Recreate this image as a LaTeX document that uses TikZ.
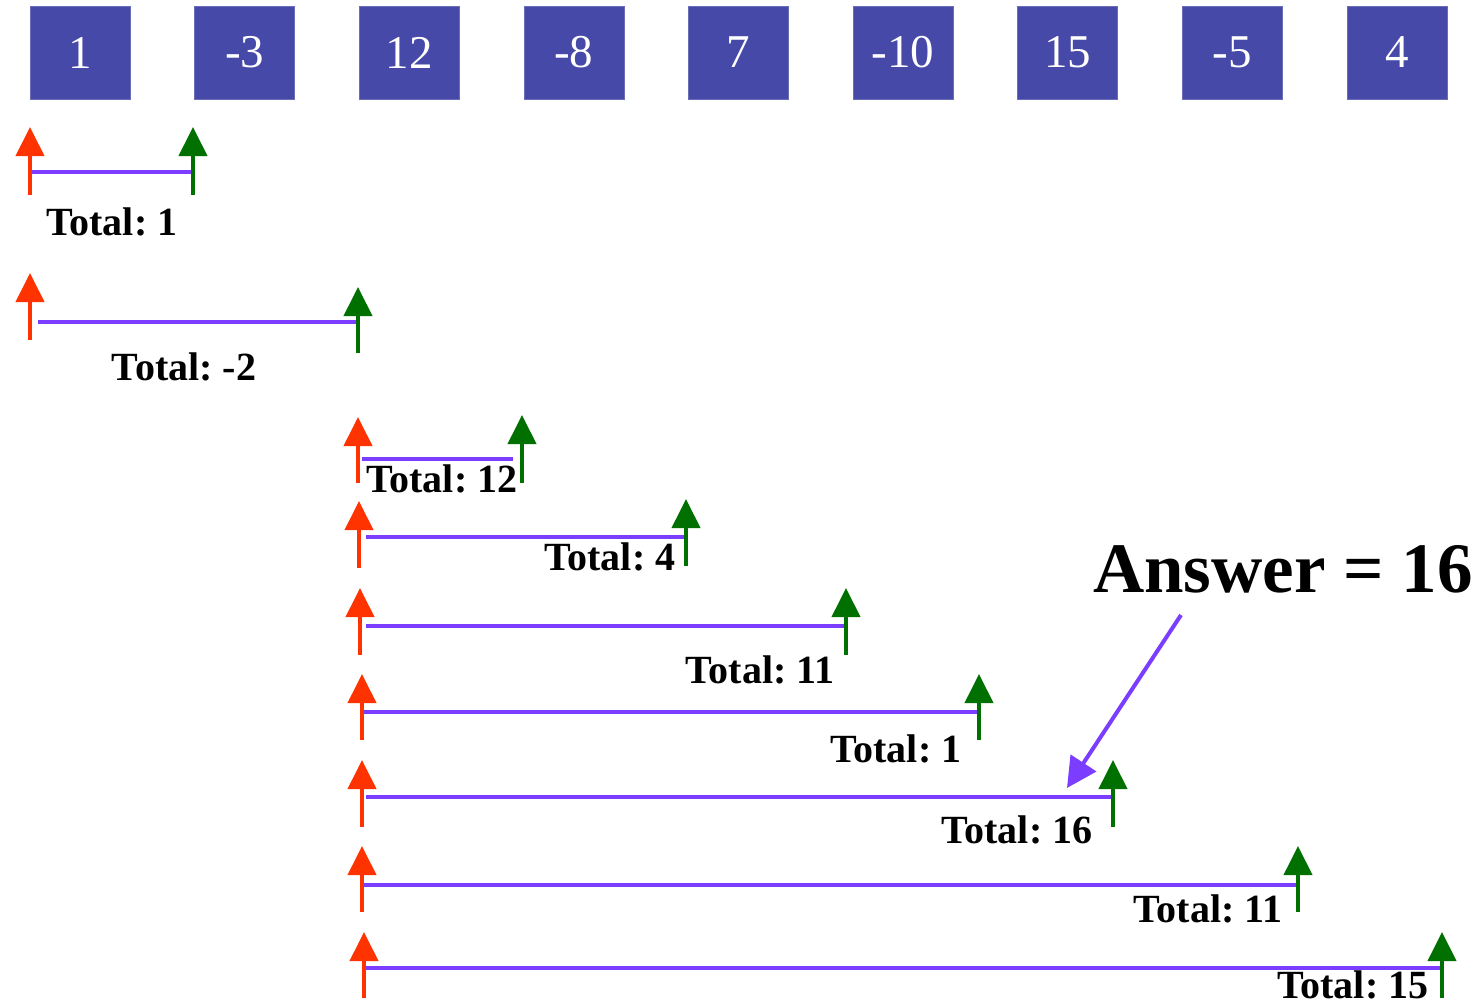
\documentclass[tikz,border=0pt]{standalone}
\usepackage{fontspec}
\setmainfont{Liberation Serif}
\usetikzlibrary{arrows.meta}
\definecolor{boxblue}{RGB}{70,73,168}
\definecolor{ptrred}{RGB}{255,51,0}
\definecolor{ptrgreen}{RGB}{0,112,0}
\definecolor{spanpurple}{RGB}{123,61,255}
\frenchspacing
\begin{document}
\begin{tikzpicture}[x=1pt,y=-1pt,
  cell/.style={fill=boxblue,draw=boxblue!80!white,line width=0.5pt,minimum width=100pt,minimum height=93pt,inner sep=0pt,text=white,font=\fontsize{47}{49}\selectfont},
  ptr/.style={line width=4pt,-{Triangle[width=28pt,length=29pt]}},
  startptr/.style={ptr,ptrred},
  endptr/.style={ptr,ptrgreen},
  span/.style={line width=4pt,spanpurple},
  total/.style={anchor=base,inner sep=0pt,font=\fontsize{40}{42}\selectfont\bfseries},
  answer/.style={anchor=base,inner sep=0pt,font=\fontsize{71}{73}\selectfont\bfseries}]
\useasboundingbox (0,0) rectangle (1483,1007);
% array cells
\foreach \v [count=\i from 0] in {1,-3,12,-8,7,-10,15,-5,4}{
  \node[cell] (c\i) at ({80+164.6*\i},52.5) {\v};
}
% rows: red x, red top, red bottom, line y, line x1, line x2, green x, green top, green bottom
\foreach \n/\rx/\rt/\rb/\ly/\la/\lb/\gx/\gt/\gb in {
  1/30/127/195/172/30/193/193/127/195,
  2/30/273/340/322/38/358/358/287/353,
  3/358/417/483/459/362/513/522/415/483,
  4/359/501/568/537/366/686/686/499/566,
  5/360/588/655/626/366/846/846/588/655,
  6/362/674/740/712/362/979/979/674/740,
  7/362/760/827/797/366/1113/1113/760/827,
  8/362/846/912/885/362/1298/1298/846/912,
  9/364/932/998/968/366/1442/1442/932/998}{
  \coordinate (rb\n) at (\rx,\rb);
  \coordinate (rt\n) at (\rx,\rt);
  \coordinate (gb\n) at (\gx,\gb);
  \coordinate (gt\n) at (\gx,\gt);
  \coordinate (la\n) at (\la,\ly);
  \coordinate (lb\n) at (\lb,\ly);
  \draw[span] (la\n) -- (lb\n);
  \draw[startptr] (rb\n) -- (rt\n);
  \draw[endptr] (gb\n) -- (gt\n);
}
% totals
\node[total] (t1) at (112,235) {Total: 1};
\node[total] (t2) at (184,380) {Total: -2};
\node[total] (t3) at (442,492) {Total: 12};
\node[total] (t4) at (610,570) {Total: 4};
\node[total] (t5) at (760,683) {Total: 11};
\node[total] (t6) at (896,762) {Total: 1};
\node[total] (t7) at (1017,843) {Total: 16};
\node[total] (t8) at (1208,922) {Total: 11};
\node[total] (t9) at (1353,998) {Total: 15};
% answer
\node[answer] (ans) at (1283,592) {Answer = 16};
\coordinate (ansfrom) at (1181,615);
\coordinate (ansto) at (1067,788);
\draw[line width=4pt,spanpurple,-{Triangle[width=30pt,length=30pt]}] (ansfrom) -- (ansto);
\end{tikzpicture}
\end{document}
